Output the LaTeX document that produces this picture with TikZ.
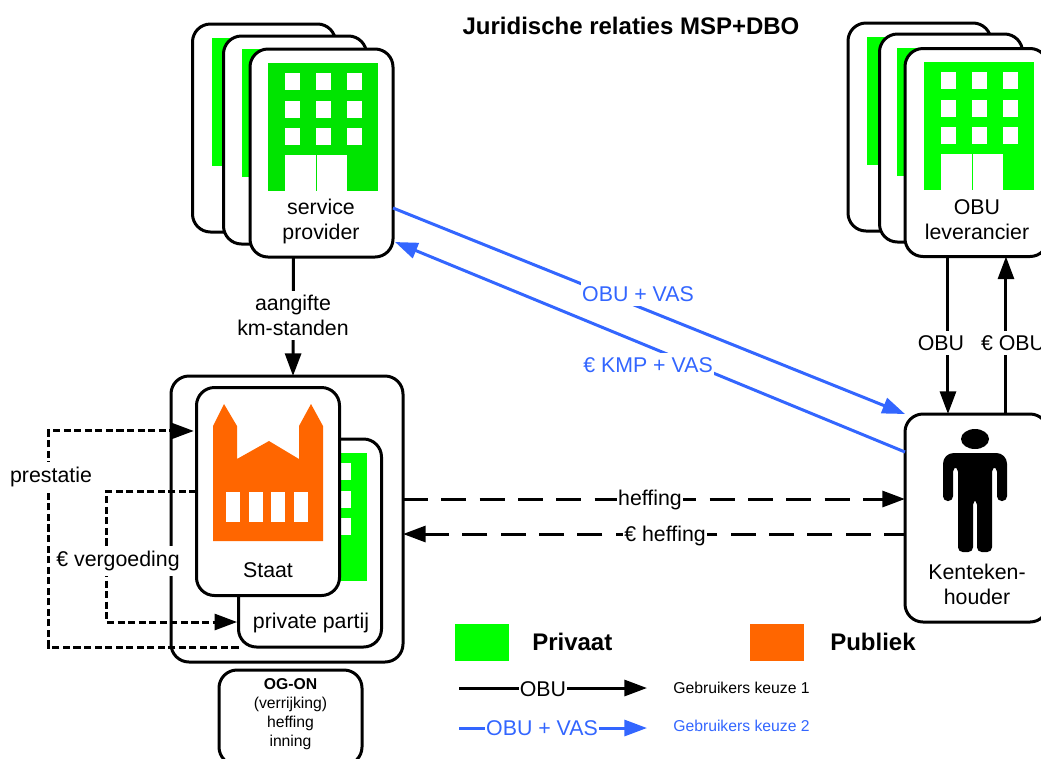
\documentclass[tikz,border=0pt]{standalone}
\usepackage{fontspec}
\setmainfont{Liberation Sans}
\usetikzlibrary{arrows.meta}
\definecolor{privaat}{HTML}{00FF00}
\definecolor{privaatdonker}{HTML}{00E400}
\definecolor{publiek}{HTML}{FF6600}
\definecolor{keuze}{HTML}{3366FF}
\newcommand{\groot}{\fontsize{16}{18.5}\selectfont}
\newcommand{\klein}{\fontsize{11.8}{14.2}\selectfont}
\newcommand{\kop}{\fontsize{18}{21}\selectfont\bfseries}
\tikzset{
  kaart/.style={draw,line width=2.25pt,fill=white,rounded corners=13.5pt,outer sep=0pt,inner sep=0pt,minimum width=107.25pt,minimum height=156pt},
  lijn/.style={line width=2.25pt,-{Triangle[length=17pt,width=12pt]}},
  gestreept/.style={lijn,dash pattern=on 18.75pt off 10pt},
  gestippeld/.style={lijn,dash pattern=on 5.3pt off 2.6pt},
  blauw/.style={lijn,keuze},
  tekst/.style={font=\groot,align=center,inner sep=0pt},
  etiket/.style={font=\groot,align=center,fill=white,inner xsep=1pt,inner ysep=3.5pt}
}
% building front, #2,#3 is the top left corner of the green block
\newcommand{\kantoor}[3][privaat]{
  \fill[#1] (#2,#3) rectangle ++(110,128);
  \foreach \i in {0,1,2} \foreach \j in {0,1,2}
    \fill[white] (#2+17+31*\i,#3+10+27.5*\j) rectangle ++(15,17);
  \fill[white] (#2+17,#3+92) rectangle ++(30.5,35.5);
  \fill[white] (#2+48.5,#3+92) rectangle ++(30.5,35.5);
}
\begin{document}
\begin{tikzpicture}[x=0.75pt,y=-0.75pt]
\useasboundingbox (0,0) rectangle (1041,758);
\node[font=\kop,inner sep=0pt] (titel) at (631,26) {Juridische relaties MSP+DBO};

% service providers
\node[kaart] (spa) at (264,128) {};
\kantoor{212}{38}
\node[kaart] (spb) at (295,140) {};
\kantoor{242}{49}
\node[kaart] (sp) at (321.5,153) {};
\kantoor[privaatdonker]{268}{63}
\node[tekst] (sptekst) at (321,221.5) {service\\provider};

% OBU leveranciers
\node[kaart] (obua) at (919.5,127) {};
\kantoor{867}{37}
\node[kaart] (obub) at (951,138) {};
\kantoor{897}{48}
\node[kaart] (obu) at (976.5,152.5) {};
\kantoor{924}{62}
\node[tekst] (obutekst) at (977,219.5) {OBU\\leverancier};

% overheid
\node[kaart,minimum width=174pt,minimum height=214.5pt] (omhulsel) at (287,519) {};
\node[kaart] (private) at (310,543) {};
\kantoor{257}{453}
\node[tekst] (privatetekst) at (311,623) {private partij};
\node[kaart] (staat) at (268,491.5) {};
\fill[publiek] (213,541) -- (213,426) -- (224,404) -- (237,426) -- (237,459) -- (269,441)
  -- (299,459) -- (299,426) -- (311,404) -- (323,426) -- (323,541) -- cycle;
\foreach \x in {226,248.5,271,294} \fill[white] (\x,492) rectangle ++(14,30);
\node[tekst] (staattekst) at (268,570.5) {Staat};
\node[kaart,minimum height=71.25pt] (ogon) at (290.5,717.5) {};
\node[font=\klein,align=center,inner sep=0pt] (ogontekst) at (290.5,714) {\textbf{OG-ON}\\(verrijking)\\heffing\\inning};

% kentekenhouder
\node[kaart] (ken) at (976.5,518) {};
\fill (975,439) ellipse (14 and 10);
\fill[rounded corners=3.5pt] (943,501) [rounded corners=8pt] -- (943,453) -- (1007,453) [rounded corners=3.5pt] -- (1007,501) -- (997,501)
  -- (997,467) -- (992,467) -- (992,552) -- (977,552) -- (977,500) -- (973,500) -- (973,552) -- (958,552)
  -- (958,467) -- (953,467) -- (953,501) -- cycle;
\node[tekst] (kentekst) at (977,584.5) {Kenteken-\\houder};

% relaties
\draw[lijn] ([xshift=-21pt]sp.south) -- ([xshift=4.5pt]omhulsel.north);
\node[etiket] (aangifte) at (293,315.5) {aangifte\\km-standen};
\draw[lijn] ([xshift=-21.4pt]obu.south) -- ([xshift=-21.4pt]obu.south |- ken.north);
\node[etiket] (obulabel) at (941,343) {OBU};
\draw[lijn] ([xshift=22.1pt]obu.south |- ken.north) -- ([xshift=22.1pt]obu.south);
\node[etiket] (eurolabel) at (1013,343) {€ OBU};
\draw[blauw] ([yshift=-41.25pt]sp.east) -- (ken.north west);
\node[etiket,text=keuze] (vaslabel) at (638,294) {OBU + VAS};
\draw[blauw] ([yshift=49.5pt]ken.west) -- ([yshift=-66.75pt,xshift=1.5pt]sp.east);
\node[etiket,text=keuze] (kmplabel) at (648,365) {€ KMP + VAS};
\draw[gestreept] ([yshift=15pt]omhulsel.east) -- ([yshift=15pt]omhulsel.east -| ken.west);
\node[etiket] (heffing) at (650,500) {heffing};
\draw[gestreept,dash phase=3pt] ([yshift=-12pt]ken.west) -- ([yshift=-12pt]ken.west -| omhulsel.east);
\node[etiket] (eheffing) at (665,536) {€ heffing};
\draw[gestippeld] (private.south west) -- ++(-190,0) |- ([yshift=45.4pt,xshift=-2pt]staat.west);
\node[etiket] (prestatie) at (51,477) {prestatie};
\draw[gestippeld] (staat.west) -- ++(-90,0) |- ([yshift=-59.25pt,xshift=-1pt]private.west);
\node[etiket] (vergoeding) at (118,561) {€ vergoeding};

% legenda
\node[fill=privaat,minimum width=40.5pt,minimum height=27.75pt,inner sep=0pt] (groen) at (482,642.5) {};
\node[font=\kop,anchor=west,inner sep=0pt] (privaattekst) at (532,642) {Privaat};
\node[fill=publiek,minimum width=40.5pt,minimum height=27.75pt,inner sep=0pt] (oranje) at (777,642.5) {};
\node[font=\kop,anchor=west,inner sep=0pt] (publiektekst) at (830,642) {Publiek};
\coordinate (kb) at (459,688);
\coordinate (ke) at (647,688);
\draw[lijn] (kb) -- (ke);
\node[etiket,inner ysep=0.5pt] (legobu) at (543,689) {OBU};
\node[font=\klein,anchor=west,inner sep=0pt] (keuze1) at (673,688) {Gebruikers keuze 1};
\coordinate (lb) at (459,728);
\coordinate (le) at (647,728);
\draw[blauw] (lb) -- (le);
\node[etiket,inner ysep=0.5pt,text=keuze] (legvas) at (542,728) {OBU + VAS};
\node[font=\klein,anchor=west,inner sep=0pt,text=keuze] (keuze2) at (673,726) {Gebruikers keuze 2};
\end{tikzpicture}
\end{document}
